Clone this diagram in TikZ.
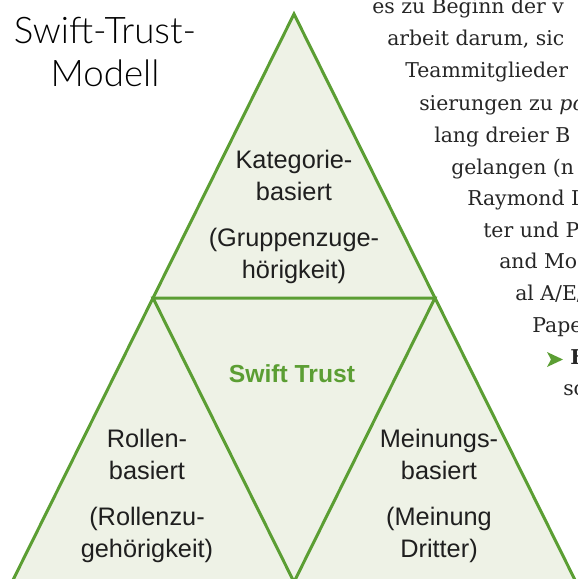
\documentclass[tikz,border=0pt]{standalone}
\usepackage{fontspec}
\setmainfont{Liberation Sans}
\newfontfamily\titlefont{Lato Light}
\newfontfamily\pagefont{DejaVu Serif}
\usetikzlibrary{calc}
\definecolor{trustgreen}{HTML}{5B9E33}
\definecolor{trustfill}{HTML}{EEF2E6}
\tikzset{
	triline/.style={trustgreen, line width=2.25pt, line join=miter},
	parttext/.style={font=\fontsize{19}{24}\selectfont, align=center, anchor=base, text=black!88, inner sep=0pt},
	pageline/.style={font=\pagefont\fontsize{15.3}{24}\selectfont, anchor=base west, text=black!85, inner sep=0pt}
}
\begin{document}
\begin{tikzpicture}[x=0.75pt, y=-0.75pt]
	\useasboundingbox (0, 0) rectangle (578, 579);
	\clip (0, 0) rectangle (578, 579);
	\coordinate (apex) at (294, 14);
	\coordinate (left) at (12, 582);
	\coordinate (right) at (576, 582);
	\coordinate (ml) at ($(apex)!.5!(left)$);
	\coordinate (mr) at ($(apex)!.5!(right)$);
	\coordinate (mb) at ($(left)!.5!(right)$);
	\fill[trustfill] (apex) -- (left) -- (right) -- cycle;
	\draw[triline] (apex) -- (left) -- (right) -- cycle;
	\draw[triline] (ml) -- (mr) -- (mb) -- cycle;
	\node[font=\titlefont\fontsize{27.5}{32}\selectfont, align=center, anchor=base, inner sep=0pt] (title) at (105, 86) {Swift-Trust-\\Modell};
	\node[parttext] (kategorie) at (294, 278) {Kategorie-\\basiert\\[10pt](Gruppenzuge-\\hörigkeit)};
	\node[parttext] (rollen) at (147, 557) {Rollen-\\basiert\\[10pt](Rollenzu-\\gehörigkeit)};
	\node[parttext] (meinung) at (439, 557) {Meinungs-\\basiert\\[10pt](Meinung\\Dritter)};
	\node[font=\bfseries\fontsize{18.5}{24}\selectfont, text=trustgreen, anchor=base, inner sep=0pt] (swift) at (292, 382) {Swift Trust};
	\node[pageline] (l1) at (372, 13) {es zu Beginn der v};
	\node[pageline] (l2) at (387, 45) {arbeit darum, sic};
	\node[pageline] (l3) at (405, 77) {Teammitglieder};
	\node[pageline] (l4) at (419, 110) {sierungen zu \textit{po}};
	\node[pageline] (l5) at (434, 142) {lang dreier B};
	\node[pageline] (l6) at (451, 174) {gelangen (n};
	\node[pageline] (l7) at (467, 205) {Raymond I};
	\node[pageline] (l8) at (483, 237) {ter und P};
	\node[pageline] (l9) at (499, 268) {and Mo};
	\node[pageline] (l10) at (515, 300) {al A/E/};
	\node[pageline] (l11) at (532, 332) {Pape};
	\fill[trustgreen] (547, 352) -- (563, 359.5) -- (547, 367) -- (551, 359.5) -- cycle;
	\node[pageline] (l12) at (570, 364) {\bfseries F};
	\node[pageline] (l13) at (563, 395) {so};
\end{tikzpicture}
\end{document}
